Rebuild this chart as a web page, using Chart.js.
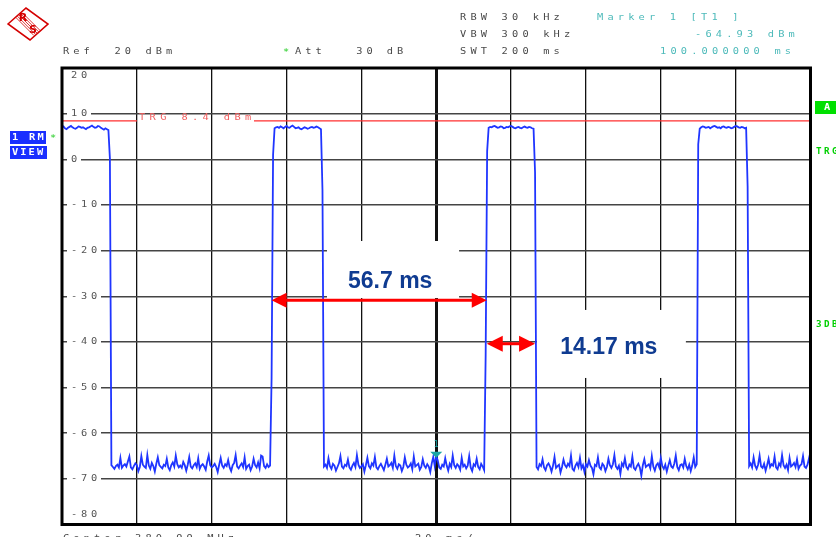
<!DOCTYPE html>
<html lang="en">
<head>
  <meta charset="UTF-8" />
  <title>Zero span burst timing</title>
  <script src="https://cdn.jsdelivr.net/npm/chart.js"></script>
  <style>
    html, body { margin: 0; padding: 0; background: #fff; }
    #wrap { width: 836px; height: 537px; }
  </style>
</head>
<body>
  <div id="wrap"><canvas id="trace" width="836" height="537"></canvas></div>

  <script>
    // sweep: 501 points over 200 ms (0.4 ms per point)
    const STEP_MS = 0.4;

    // burst tops (dBm)
    const burst1 = [7.0,7.2,6.8,6.6,6.9,7.1,7.3,7.0,6.8,6.7,6.9,7.2,7.1,6.9,7.0,6.8,6.6,6.9,7.0,7.2,7.4,7.1,6.9,7.0,7.3,7.2,6.9,6.7,6.5,6.8,6.6,6.4];
    const burst2 = [6.8,7.0,7.1,6.9,7.2,7.0,6.8,7.1,7.3,7.0,6.9,7.2,7.4,7.1,6.8,6.9,7.0,6.7,6.6,6.8,7.0,6.9,6.7,6.8,7.0,7.1,6.9,7.0,7.2,7.0,6.8,6.6];
    const burst3 = [6.9,7.1,7.0,7.2,7.3,7.1,6.9,7.0,7.2,7.1,6.8,6.9,7.1,7.0,7.2,7.3,7.1,6.9,6.8,7.0,7.1,6.9,6.8,7.0,7.2,7.0,6.9,7.1,7.0,6.8,6.7];
    const burst4 = [6.7,7.0,7.2,7.1,6.9,7.0,7.1,6.8,7.0,7.2,7.3,7.1,6.9,7.0,6.8,7.1,7.2,7.0,6.9,7.1,7.0,6.8,6.9,7.1,7.3,7.2,7.0,6.9,7.1,7.0,6.8,6.9];

    // samples caught on the edges
    const edgeLevels = [0.2, -48, 1.0, -6.8, -43, 1.8, -2.9, 3.3, -5.9];

    // noise floor between bursts (dBm)
    const floor1 = [
      -67.0,-67.4,-67.8,-67.2,-66.9,-67.5,-65.4,-67.6,-67.1,-66.8,
      -67.3,-66.2,-65.1,-67.5,-67.9,-67.2,-66.6,-67.0,-68.3,-67.4,
      -65.0,-66.9,-67.3,-67.6,-64.8,-67.1,-67.8,-66.5,-67.2,-68.4,
      -66.7,-65.3,-67.0,-67.4,-67.7,-66.9,-67.2,-65.6,-67.5,-68.1,
      -67.0,-66.4,-67.3,-64.9,-66.8,-67.5,-67.1,-67.6,-66.3,-67.0,
      -68.2,-66.9,-65.2,-67.3,-67.7,-67.0,-66.6,-67.4,-65.5,-67.8,
      -67.1,-66.8,-67.3,-68.0,-66.2,-64.9,-67.0,-67.5,-67.2,-66.7,
      -67.4,-68.5,-66.9,-65.4,-67.1,-67.6,-66.8,-67.2,-65.9,-67.5,
      -68.3,-67.0,-66.5,-64.8,-67.3,-67.7,-67.1,-66.6,-67.4,-65.3,
      -67.8,-67.2,-66.9,-68.1,-67.3,-65.6,-67.0,-67.5,-66.4,-67.7,
      -64.9,-65.1,-67.2,-67.6,-66.8,-67.4,-67.1
    ];
    const floor2 = [
      -67.3,-66.9,-67.6,-65.5,-67.2,-67.8,-66.7,-67.1,-68.2,-67.4,
      -66.6,-65.0,-67.3,-67.7,-66.9,-67.2,-65.8,-67.5,-68.0,-67.1,
      -66.5,-67.4,-64.8,-66.9,-67.6,-67.3,-66.8,-68.4,-67.0,-65.4,
      -67.2,-67.7,-66.6,-67.1,-65.2,-67.5,-67.9,-67.2,-66.7,-67.4,
      -68.1,-66.9,-65.6,-67.3,-67.0,-66.5,-67.6,-64.9,-67.2,-67.8,
      -66.8,-67.1,-68.3,-67.4,-65.3,-66.9,-67.5,-67.2,-66.6,-67.9,
      -65.1,-67.3,-67.0,-66.7,-68.0,-67.4,-65.7,-67.1,-67.6,-66.8,
      -67.3,-68.5,-66.6,-65.2,-67.2,-64.93,-66.0,-67.5,-67.8,-66.9,
      -67.3,-65.5,-67.1,-68.2,-66.7,-67.4,-64.9,-67.0,-67.6,-66.8,
      -67.2,-68.0,-65.4,-67.3,-66.9,-67.7,-67.1,-65.0,-67.5,-68.3,
      -66.8,-67.2,-65.6,-67.4,-67.9,-66.7,-67.3,-68.1
    ];
    const floor3 = [
      -67.4,-67.9,-66.8,-67.2,-65.7,-67.5,-68.1,-67.0,-66.6,-67.3,
      -68.4,-67.1,-65.2,-67.6,-67.2,-66.9,-68.6,-67.4,-65.8,-67.0,
      -67.5,-66.7,-67.2,-64.9,-67.8,-68.2,-67.1,-66.5,-67.4,-65.4,
      -67.7,-67.0,-68.5,-66.8,-67.3,-65.9,-67.1,-67.6,-69.0,-66.9,
      -67.2,-65.3,-67.5,-67.9,-66.7,-67.1,-68.3,-67.4,-65.6,-67.0,
      -67.6,-66.8,-64.8,-67.3,-67.8,-67.1,-68.9,-66.6,-67.2,-65.5,
      -67.4,-67.9,-66.9,-67.3,-65.1,-67.6,-68.0,-67.2,-66.7,-67.5,
      -69.3,-67.0,-65.7,-67.4,-67.1,-66.8,-67.7,-65.0,-67.3,-68.2,
      -67.0,-66.6,-67.5,-65.4,-67.2,-67.8,-66.9,-68.4,-67.1,-65.9,
      -67.3,-67.6,-66.7,-64.9,-67.4,-68.1,-67.0,-66.8,-67.5,-65.6,
      -67.2,-67.9,-66.9,-68.3,-67.1,-65.3,-67.4,-66.8
    ];
    const floor4 = [
      -67.2,-66.6,-67.5,-65.3,-67.1,-67.8,-66.9,-64.9,-67.3,-67.6,
      -66.7,-68.2,-67.0,-65.6,-67.4,-66.8,-67.1,-65.1,-67.5,-67.9,
      -66.6,-67.2,-64.8,-67.0,-67.6,-66.9,-68.1,-65.4,-67.3,-67.0,
      -66.5,-67.4,-65.7,-67.8,-67.1,-66.8,-65.0,-67.3,-67.6,-66.9,
      -65.5,-67.2
    ];

    const yTicks = [20, 10, 0, -10, -20, -30, -40, -50, -60, -70, -80];
    const trigLevel = 8.4;
    const marker = { t: 100, level: -64.93 };

    // measurement annotations, in ms / dBm
    const periodArrow = { from: 56.0, to: 113.5, level: -30.9, text: '56.7 ms', tx: 87.7, ty: -26.7,
                          box: [70.8, 106.1, -17.9, -30.4] };
    const burstArrow  = { from: 113.5, to: 126.4, level: -40.4, text: '14.17 ms', tx: 146.1, ty: -41.2,
                          box: [126.9, 166.7, -33.0, -47.9] };

    const trace = [
      ...burst1, edgeLevels[0],
      ...floor1, edgeLevels[1], edgeLevels[2],
      ...burst2, edgeLevels[3],
      ...floor2, edgeLevels[4], edgeLevels[5],
      ...burst3, edgeLevels[6],
      ...floor3, edgeLevels[7],
      ...burst4, edgeLevels[8],
      ...floor4
    ];
    const points = trace.map((v, i) => ({ x: i * STEP_MS, y: v }));

    const MONO = '"DejaVu Sans Mono", "Liberation Mono", monospace';

    // instrument style text: fixed pitch, glyphs a bit wide
    function spaced(ctx, str, x, y, pitch, color, font) {
      ctx.save();
      ctx.fillStyle = color;
      ctx.font = font || ('9px ' + MONO);
      ctx.textBaseline = 'middle';
      ctx.textAlign = 'left';
      for (let i = 0; i < str.length; i++) {
        ctx.setTransform(1.15, 0, 0, 1, x + i * pitch, y);
        ctx.fillText(str[i], 0, 0);
      }
      ctx.restore();
    }

    function arrow(ctx, x1, x2, y, head, half) {
      ctx.save();
      ctx.strokeStyle = ctx.fillStyle = '#ff0000';
      ctx.lineWidth = 3;
      ctx.beginPath(); ctx.moveTo(x1 + head - 2, y); ctx.lineTo(x2 - head + 2, y); ctx.stroke();
      ctx.beginPath(); ctx.moveTo(x1, y); ctx.lineTo(x1 + head, y - half); ctx.lineTo(x1 + head, y + half); ctx.closePath(); ctx.fill();
      ctx.beginPath(); ctx.moveTo(x2, y); ctx.lineTo(x2 - head, y - half); ctx.lineTo(x2 - head, y + half); ctx.closePath(); ctx.fill();
      ctx.restore();
    }

    const decor = {
      id: 'decor',
      beforeDatasetsDraw(chart) {
        const { ctx, chartArea: a, scales: { x, y } } = chart;
        ctx.save();

        // white label boxes over the grid
        ctx.fillStyle = '#fff';
        [periodArrow, burstArrow].forEach(m => {
          const [t0, t1, l0, l1] = m.box;
          ctx.fillRect(x.getPixelForValue(t0), y.getPixelForValue(l0),
                       x.getPixelForValue(t1) - x.getPixelForValue(t0),
                       y.getPixelForValue(l1) - y.getPixelForValue(l0));
        });

        // trigger level line with its label
        const ty = y.getPixelForValue(trigLevel);
        ctx.strokeStyle = '#ff3030';
        ctx.lineWidth = 1.2;
        ctx.beginPath();
        ctx.moveTo(a.left, ty); ctx.lineTo(137, ty);
        ctx.moveTo(254, ty); ctx.lineTo(a.right, ty);
        ctx.stroke();
        spaced(ctx, 'TRG 8.4 dBm', 139, ty - 3, 10.6, '#f06060');

        // level labels inside the grid
        yTicks.forEach(v => {
          const s = String(v);
          let py = y.getPixelForValue(v);
          if (v === 20) py += 7.5;
          if (v === -80) py -= 10;
          ctx.fillStyle = '#fff';
          if (v !== 20 && v !== -80) ctx.fillRect(67, py - 4, s.length * 10 + 4, 8);
          spaced(ctx, s, 71, py, 10, '#555');
        });
        ctx.restore();
      },
      afterDatasetsDraw(chart) {
        const { ctx, chartArea: a, scales: { x, y } } = chart;
        ctx.save();

        // frame
        ctx.strokeStyle = '#000';
        ctx.lineWidth = 3;
        ctx.strokeRect(a.left, a.top, a.right - a.left, a.bottom - a.top);

        // marker 1
        const mx = x.getPixelForValue(marker.t), my = y.getPixelForValue(marker.level) + 2;
        ctx.fillStyle = '#1aa6a6';
        ctx.beginPath(); ctx.moveTo(mx, my); ctx.lineTo(mx - 6, my - 6); ctx.lineTo(mx + 6, my - 6); ctx.closePath(); ctx.fill();
        ctx.font = '8px ' + MONO; ctx.textAlign = 'center'; ctx.textBaseline = 'middle';
        ctx.fillText('1', mx, my - 13);

        // measurement arrows
        [periodArrow, burstArrow].forEach((m, i) => {
          arrow(ctx, x.getPixelForValue(m.from), x.getPixelForValue(m.to), y.getPixelForValue(m.level),
                i === 0 ? 15 : 16, i === 0 ? 7.5 : 8);
          ctx.fillStyle = '#0f3b91';
          ctx.font = 'bold 23px "Liberation Sans", Arial, sans-serif';
          ctx.textAlign = 'center'; ctx.textBaseline = 'middle';
          ctx.fillText(m.text, x.getPixelForValue(m.tx), y.getPixelForValue(m.ty));
        });
        ctx.restore();
      },
      afterDraw(chart) {
        const { ctx } = chart;
        ctx.save();

        // R&S logo
        ctx.translate(28, 24);
        ctx.strokeStyle = ctx.fillStyle = '#d40000';
        ctx.lineWidth = 1.6;
        ctx.beginPath(); ctx.moveTo(-20, 0); ctx.lineTo(-2, -16); ctx.lineTo(20, 0); ctx.lineTo(2, 16); ctx.closePath(); ctx.stroke();
        ctx.lineWidth = 0.8;
        for (let k = -2; k <= 2; k++) {
          ctx.beginPath(); ctx.moveTo(-9 + k * 1.6, -9 - k * 1.2); ctx.lineTo(9 + k * 1.6, 9 - k * 1.2); ctx.stroke();
        }
        ctx.font = 'bold 11px "DejaVu Sans", sans-serif';
        ctx.textAlign = 'center'; ctx.textBaseline = 'middle';
        ctx.fillText('R', -5, -6);
        ctx.fillText('S', 5, 6);
        ctx.setTransform(1, 0, 0, 1, 0, 0);

        // instrument settings
        spaced(ctx, 'Ref  20 dBm', 63, 52, 10.3, '#4a4a4a');
        spaced(ctx, '*', 283, 53, 10, '#22cc22');
        spaced(ctx, 'Att   30 dB', 295, 52, 10.2, '#4a4a4a');
        spaced(ctx, 'RBW 30 kHz', 460, 18, 10.4, '#4a4a4a');
        spaced(ctx, 'VBW 300 kHz', 460, 35, 10.4, '#4a4a4a');
        spaced(ctx, 'SWT 200 ms', 460, 52, 10.4, '#4a4a4a');
        spaced(ctx, 'Marker 1 [T1 ]', 597, 18, 10.4, '#4dbaba');
        spaced(ctx, '-64.93 dBm', 695, 35, 10.4, '#4dbaba');
        spaced(ctx, '100.000000 ms', 660, 52, 10.4, '#4dbaba');
        spaced(ctx, 'Center 380.99 MHz', 63, 539, 10.3, '#4a4a4a');
        spaced(ctx, '20 ms/', 415, 539, 10.3, '#4a4a4a');

        // side soft keys
        ctx.fillStyle = '#1a2fff';
        ctx.fillRect(10, 131, 36, 13);
        ctx.fillRect(10, 146, 37, 13);
        spaced(ctx, '1 RM', 12, 138, 8.5, '#fff', 'bold 9px ' + MONO);
        spaced(ctx, 'VIEW', 12, 153, 8.3, '#fff', 'bold 9px ' + MONO);
        spaced(ctx, '*', 50, 139, 8, '#22cc22');
        ctx.fillStyle = '#00e000';
        ctx.fillRect(815, 101, 21, 13);
        spaced(ctx, 'A', 824, 108, 8, '#fff', 'bold 9px ' + MONO);
        spaced(ctx, 'TRG', 816, 152, 8, '#00d000', 'bold 8px ' + MONO);
        spaced(ctx, '3DB', 816, 325, 8, '#00d000', 'bold 8px ' + MONO);
        ctx.restore();
      }
    };

    new Chart(document.getElementById('trace'), {
      type: 'line',
      data: {
        datasets: [{
          data: points,
          borderColor: '#1f35ff',
          borderWidth: 1.8,
          pointRadius: 0,
          tension: 0
        }]
      },
      options: {
        responsive: false,
        animation: false,
        devicePixelRatio: 1,
        layout: { padding: { left: 62, right: 25.5, top: 68, bottom: 12.5 } },
        plugins: { legend: { display: false }, tooltip: { enabled: false } },
        scales: {
          x: {
            type: 'linear',
            min: 0, max: 200,
            ticks: { display: false, stepSize: 20 },
            grid: {
              color: '#111',
              lineWidth: c => (c.tick && c.tick.value === 100 ? 3 : 1.3),
              drawTicks: false
            },
            border: { display: false }
          },
          y: {
            min: -80, max: 20,
            ticks: { display: false, stepSize: 10 },
            grid: { color: '#444', lineWidth: 1.5, drawTicks: false },
            border: { display: false }
          }
        }
      },
      plugins: [decor]
    });
  </script>
</body>
</html>
